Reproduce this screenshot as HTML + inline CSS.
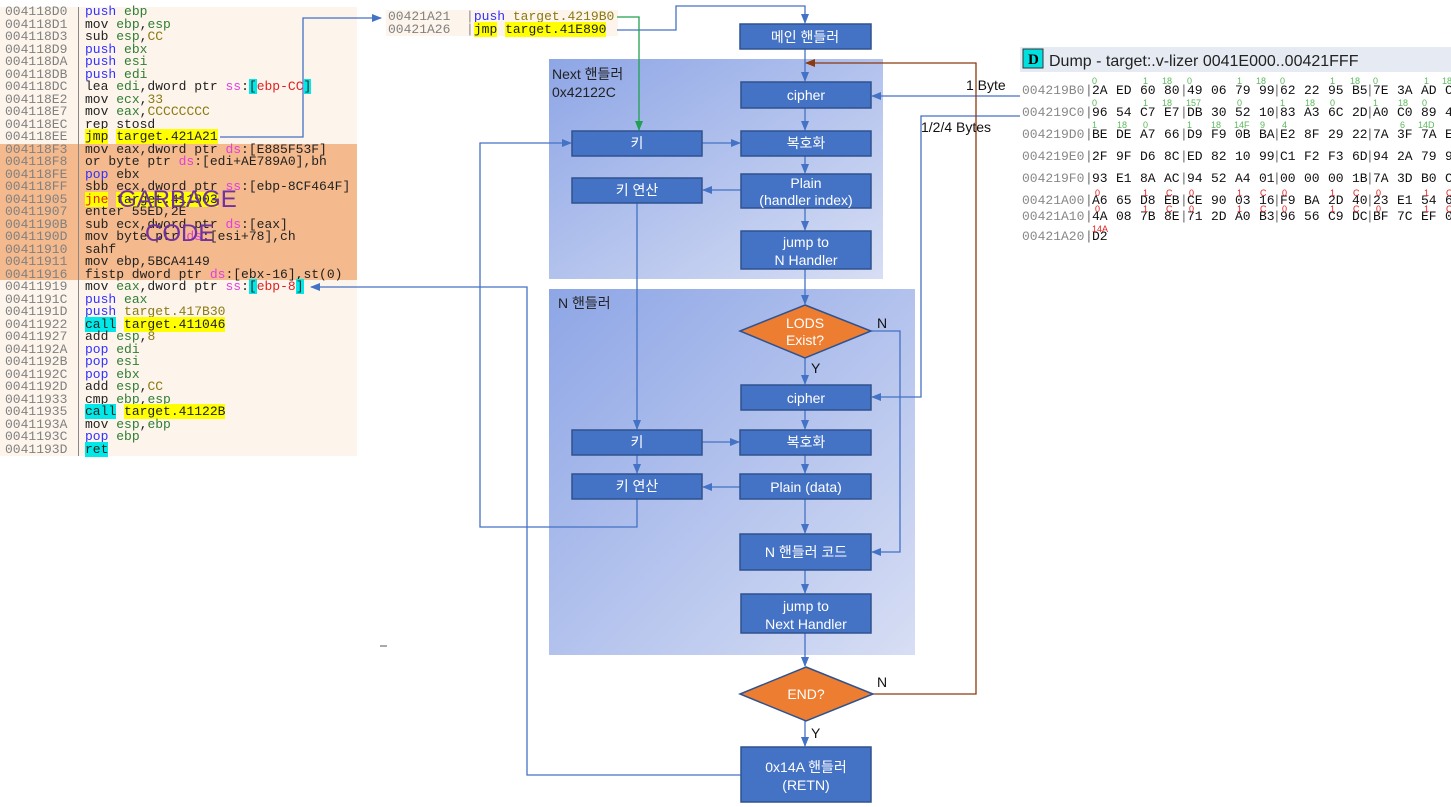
<!DOCTYPE html>
<html><head><meta charset="utf-8"><style>
body{margin:0;width:1451px;height:807px;background:#fff;overflow:hidden;position:relative;font-family:"Liberation Sans","Noto Sans CJK KR",sans-serif}
.code{position:absolute;left:0;top:7px;width:357px;height:449px;background:#fdf5ec}
.garb{position:absolute;left:0;top:144px;width:357px;height:136px;background:#f4b98c}
.ln{position:absolute;left:5px;font:13px/12.5px "Liberation Mono",monospace;white-space:pre;color:#222}
.ad{display:inline-block;width:80px}
.a{color:#808080}.k{color:#3030ff}.g{color:#2e7d32}.o{color:#8a7a10}.m{color:#e040e0}.y{background:#ffff00}.c{background:#00e8e8}.r{color:#e02020}
</style></head><body>
<div class="code"></div><div class="garb"></div>
<div style="position:absolute;left:78px;top:7px;width:1px;height:449px;background:#888"></div>
<div id="cl"></div>
<div style="position:absolute;left:118px;top:186px;font-size:24px;color:#7030a0">GARBAGE</div>
<div style="position:absolute;left:145px;top:220px;font-size:24px;color:#7030a0">CODE</div>
<div style="position:absolute;left:386px;top:10px;width:232px;height:26px;background:#fdf5ec"></div>
<div class="ln" style="left:388px;top:11px"><span class="a">00421A21</span>  <span style="color:#888">|</span><span class="k">push</span> <span class="o">target.4219B0</span></div>
<div class="ln" style="left:388px;top:23.5px"><span class="a">00421A26</span>  <span style="color:#888">|</span><span class="y">jmp</span> <span class="y">target.41E890</span></div>

<svg id="sv" width="1451" height="807" style="position:absolute;left:0;top:0">
<defs>
<linearGradient id="g1" x1="0" y1="0" x2="1" y2="1"><stop offset="0" stop-color="#8ea6e6"/><stop offset="1" stop-color="#d7def4"/></linearGradient>
<marker id="ab" markerWidth="10" markerHeight="8" refX="9" refY="4" orient="auto" markerUnits="userSpaceOnUse"><path d="M0,0L10,4L0,8z" fill="#4472c4"/></marker>
<marker id="ar" markerWidth="10" markerHeight="8" refX="9" refY="4" orient="auto" markerUnits="userSpaceOnUse"><path d="M0,0L10,4L0,8z" fill="#8b3a0f"/></marker>
<marker id="ag" markerWidth="10" markerHeight="8" refX="9" refY="4" orient="auto" markerUnits="userSpaceOnUse"><path d="M0,0L10,4L0,8z" fill="#20a050"/></marker>
</defs>
<rect x="549" y="59" width="334" height="220" fill="url(#g1)"/>
<rect x="549" y="289" width="366" height="366" fill="url(#g1)"/>
<text x="552" y="79" font-size="14" fill="#222">Next 핸들러</text>
<text x="552" y="97" font-size="14" fill="#222">0x42122C</text>
<text x="558" y="308" font-size="14" fill="#222">N 핸들러</text>
<g fill="none" stroke="#4472c4" stroke-width="1.3">
<path d="M220,137H303V18H381" marker-end="url(#ab)"/>
<path d="M617,30H676V6H805V23" marker-end="url(#ab)"/>
<path d="M805,49V81" marker-end="url(#ab)"/>
<path d="M1020,96H872" marker-end="url(#ab)"/>
<path d="M1020,116H921V397H872" marker-end="url(#ab)"/>
<path d="M805,108V130" marker-end="url(#ab)"/>
<path d="M805,156V173" marker-end="url(#ab)"/>
<path d="M805,208V230" marker-end="url(#ab)"/>
<path d="M805,269V304" marker-end="url(#ab)"/>
<path d="M702,143H740" marker-end="url(#ab)"/>
<path d="M741,190H703" marker-end="url(#ab)"/>
<path d="M637,203V429" marker-end="url(#ab)"/>
<path d="M637,499V527H480V143H571" marker-end="url(#ab)"/>
<path d="M871,331H900V552H872" marker-end="url(#ab)"/>
<path d="M805,358V384" marker-end="url(#ab)"/>
<path d="M805,410V429" marker-end="url(#ab)"/>
<path d="M702,442H739" marker-end="url(#ab)"/>
<path d="M637,455V473" marker-end="url(#ab)"/>
<path d="M805,455V473" marker-end="url(#ab)"/>
<path d="M740,487H703" marker-end="url(#ab)"/>
<path d="M805,499V533" marker-end="url(#ab)"/>
<path d="M805,570V593" marker-end="url(#ab)"/>
<path d="M805,633V666" marker-end="url(#ab)"/>
<path d="M805,721V746" marker-end="url(#ab)"/>
<path d="M741,775H527V287H311" marker-end="url(#ab)"/>
</g>
<path d="M617,17H639V130" fill="none" stroke="#20a050" stroke-width="1.3" marker-end="url(#ag)"/>
<path d="M873,694H976V63H806" fill="none" stroke="#8b3a0f" stroke-width="1.3" marker-end="url(#ar)"/>
<line x1="380" y1="646" x2="387" y2="646" stroke="#555"/>
<g fill="#4472c4" stroke="#2f528f" stroke-width="1.5">
<rect x="740" y="24" width="131" height="25"/>
<rect x="741" y="82" width="130" height="26"/>
<rect x="572" y="131" width="130" height="25"/>
<rect x="741" y="131" width="130" height="25"/>
<rect x="572" y="178" width="130" height="25"/>
<rect x="741" y="174" width="130" height="34"/>
<rect x="741" y="231" width="130" height="38"/>
<rect x="741" y="385" width="130" height="25"/>
<rect x="572" y="430" width="130" height="25"/>
<rect x="740" y="430" width="131" height="25"/>
<rect x="572" y="474" width="130" height="25"/>
<rect x="740" y="474" width="131" height="25"/>
<rect x="740" y="534" width="131" height="36"/>
<rect x="741" y="594" width="130" height="39"/>
<rect x="741" y="747" width="130" height="55"/>
</g>
<g fill="#ed7d31" stroke="#2f528f" stroke-width="1.5">
<path d="M805,305L871,331L805,358L740,331z"/>
<path d="M806,667L873,694L806,721L740,694z"/>
</g>
<g fill="#fff" font-size="14" text-anchor="middle">
<text x="805" y="42">메인 핸들러</text>
<text x="806" y="100">cipher</text>
<text x="637" y="148">키</text>
<text x="806" y="148">복호화</text>
<text x="637" y="195">키 연산</text>
<text x="806" y="188">Plain</text>
<text x="806" y="205">(handler index)</text>
<text x="806" y="247">jump to</text>
<text x="806" y="265">N Handler</text>
<text x="805" y="328">LODS</text>
<text x="805" y="345">Exist?</text>
<text x="806" y="403">cipher</text>
<text x="637" y="447">키</text>
<text x="806" y="447">복호화</text>
<text x="637" y="491">키 연산</text>
<text x="806" y="492">Plain (data)</text>
<text x="806" y="557">N 핸들러 코드</text>
<text x="806" y="611">jump to</text>
<text x="806" y="629">Next Handler</text>
<text x="806" y="699">END?</text>
<text x="806" y="772">0x14A 핸들러</text>
<text x="806" y="790">(RETN)</text>
</g>
<g font-size="14" fill="#111">
<text x="877" y="328">N</text><text x="811" y="373">Y</text>
<text x="877" y="687">N</text><text x="811" y="738">Y</text>
<text x="966" y="90">1 Byte</text>
<text x="921" y="132">1/2/4 Bytes</text>
</g>
<rect x="1020" y="47" width="431" height="25" fill="#e6ebf3"/>
<rect x="1023" y="49" width="20" height="19" fill="#00e0e0" stroke="#333"/>
<text x="1028" y="64" font-family="Liberation Serif" font-weight="bold" font-size="15" fill="#000">D</text>
<text x="1049" y="66" font-size="16" fill="#222">Dump - target:.v-lizer 0041E000..00421FFF</text>
<g id="dump" font-family="Liberation Mono, monospace" font-size="13"></g>
<g font-family="Liberation Sans" font-size="9" fill="#5cb85c">
<text x="1092" y="84">0</text><text x="1143" y="84">1</text><text x="1162" y="84">18</text><text x="1187" y="84">0</text><text x="1237" y="84">1</text><text x="1256" y="84">18</text><text x="1280" y="84">0</text><text x="1330" y="84">1</text><text x="1350" y="84">18</text><text x="1373" y="84">0</text><text x="1424" y="84">1</text><text x="1442" y="84">18</text>
<text x="1092" y="106">0</text><text x="1143" y="106">1</text><text x="1162" y="106">18</text><text x="1186" y="106">157</text><text x="1237" y="106">0</text><text x="1280" y="106">1</text><text x="1305" y="106">18</text><text x="1330" y="106">0</text><text x="1373" y="106">1</text><text x="1398" y="106">18</text><text x="1422" y="106">0</text>
<text x="1092" y="128">1</text><text x="1117" y="128">18</text><text x="1143" y="128">0</text><text x="1187" y="128">1</text><text x="1211" y="128">18</text><text x="1234" y="128">14F</text><text x="1260" y="128">9</text><text x="1282" y="128">4</text><text x="1400" y="128">6</text><text x="1418" y="128">14D</text>
</g>
<g font-family="Liberation Sans" font-size="9" fill="#e02020">
<text x="1095" y="196">0</text><text x="1143" y="196">1</text><text x="1166" y="196">C</text><text x="1189" y="196">0</text><text x="1237" y="196">1</text><text x="1260" y="196">C</text><text x="1282" y="196">0</text><text x="1330" y="196">1</text><text x="1353" y="196">C</text><text x="1376" y="196">0</text><text x="1424" y="196">1</text><text x="1446" y="196">C</text>
<text x="1095" y="212">0</text><text x="1143" y="212">1</text><text x="1166" y="212">C</text><text x="1189" y="212">0</text><text x="1237" y="212">1</text><text x="1260" y="212">C</text><text x="1282" y="212">0</text><text x="1330" y="212">1</text><text x="1353" y="212">C</text><text x="1376" y="212">0</text><text x="1424" y="212">1</text><text x="1446" y="212">C</text>
<text x="1092" y="232">14A</text>
</g>
</svg>
<script>
var L=[
["004118D0",'<span class="k">push</span> <span class="g">ebp</span>'],
["004118D1",'mov <span class="g">ebp</span>,<span class="g">esp</span>'],
["004118D3",'sub <span class="g">esp</span>,<span class="o">CC</span>'],
["004118D9",'<span class="k">push</span> <span class="g">ebx</span>'],
["004118DA",'<span class="k">push</span> <span class="g">esi</span>'],
["004118DB",'<span class="k">push</span> <span class="g">edi</span>'],
["004118DC",'lea <span class="g">edi</span>,dword ptr <span class="m">ss</span>:<span class="c">[</span><span class="r">ebp-CC</span><span class="c">]</span>'],
["004118E2",'mov <span class="g">ecx</span>,<span class="o">33</span>'],
["004118E7",'mov <span class="g">eax</span>,<span class="o">CCCCCCCC</span>'],
["004118EC",'rep stosd'],
["004118EE",'<span class="y">jmp</span> <span class="y">target.421A21</span>'],
["004118F3",'mov eax,dword ptr <span class="m">ds</span>:[E885F53F]'],
["004118F8",'or byte ptr <span class="m">ds</span>:[edi+AE789A0],bh'],
["004118FE",'<span class="k">pop</span> ebx'],
["004118FF",'sbb ecx,dword ptr <span class="m">ss</span>:[ebp-8CF464F]'],
["00411905",'<span class="y" style="color:#e02020">jne</span> <span class="y">target.411903</span>'],
["00411907",'enter 55ED,2E'],
["0041190B",'sub ecx,dword ptr <span class="m">ds</span>:[eax]'],
["0041190D",'mov byte ptr <span class="m">ds</span>:[esi+78],ch'],
["00411910",'sahf'],
["00411911",'mov ebp,5BCA4149'],
["00411916",'fistp dword ptr <span class="m">ds</span>:[ebx-16],st(0)'],
["00411919",'mov <span class="g">eax</span>,dword ptr <span class="m">ss</span>:<span class="c">[</span><span class="r">ebp-8</span><span class="c">]</span>'],
["0041191C",'<span class="k">push</span> <span class="g">eax</span>'],
["0041191D",'<span class="k">push</span> <span class="o">target.417B30</span>'],
["00411922",'<span class="c">call</span> <span class="y">target.411046</span>'],
["00411927",'add <span class="g">esp</span>,<span class="o">8</span>'],
["0041192A",'<span class="k">pop</span> <span class="g">edi</span>'],
["0041192B",'<span class="k">pop</span> <span class="g">esi</span>'],
["0041192C",'<span class="k">pop</span> <span class="g">ebx</span>'],
["0041192D",'add <span class="g">esp</span>,<span class="o">CC</span>'],
["00411933",'cmp <span class="g">ebp</span>,<span class="g">esp</span>'],
["00411935",'<span class="c">call</span> <span class="y">target.41122B</span>'],
["0041193A",'mov <span class="g">esp</span>,<span class="g">ebp</span>'],
["0041193C",'<span class="k">pop</span> <span class="g">ebp</span>'],
["0041193D",'<span class="c">ret</span>']];
var h='';for(var i=0;i<L.length;i++){var op=(i>=11&&i<=21)?' style="opacity:.75"':'';h+='<div class="ln" style="top:'+(6+i*12.5)+'px"'+op+'><span class="a ad">'+L[i][0]+'</span>'+L[i][1]+'</div>';}
document.getElementById('cl').innerHTML=h;
var D=[["004219B0","2A ED 60 80 49 06 79 99 62 22 95 B5 7E 3A AD CD",94],
["004219C0","96 54 C7 E7 DB 30 52 10 83 A3 6C 2D A0 C0 89 4B",116],
["004219D0","BE DE A7 66 D9 F9 0B BA E2 8F 29 22 7A 3F 7A EE",138],
["004219E0","2F 9F D6 8C ED 82 10 99 C1 F2 F3 6D 94 2A 79 99",160],
["004219F0","93 E1 8A AC 94 52 A4 01 00 00 00 1B 7A 3D B0 C3",182],
["00421A00","A6 65 D8 EB CE 90 03 16 F9 BA 2D 40 23 E1 54 67",204],
["00421A10","4A 08 7B 8E 71 2D A0 B3 96 56 C9 DC BF 7C EF 02",220],
["00421A20","D2",240]];
var NS="http://www.w3.org/2000/svg",g=document.getElementById('dump');
function t(x,y,s,c){var e=document.createElementNS(NS,'text');e.setAttribute('x',x);e.setAttribute('y',y);e.setAttribute('fill',c);e.textContent=s;g.appendChild(e);}
var gx=[1092,1187,1280,1373];
D.forEach(function(r){t(1022,r[2],r[0],'#888');var b=r[1].split(' ');for(var i=0;i<b.length;i++){var gi=Math.floor(i/4);t(gx[gi]+(i%4)*24,r[2],b[i],'#111');}
for(var k=0;k<4&&k*4<b.length;k++)t(gx[k]-7,r[2],'|','#666');});
</script>
</body></html>
